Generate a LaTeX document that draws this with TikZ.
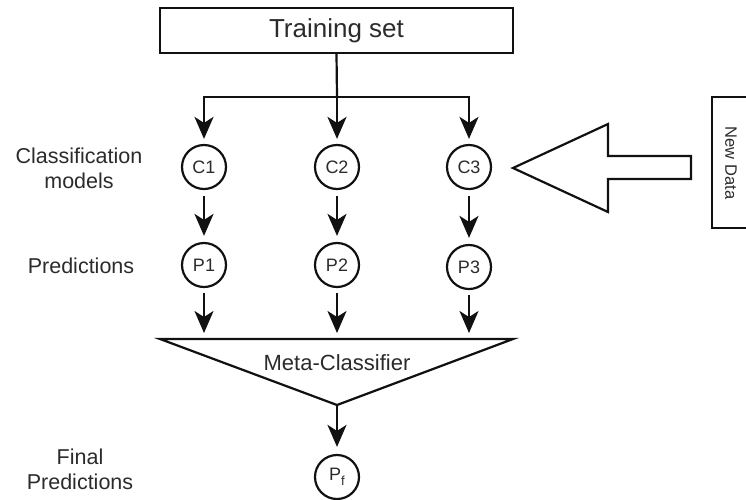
\documentclass[tikz,border=0pt]{standalone}
\usepackage{fontspec}
\setmainfont{Liberation Sans}
\usetikzlibrary{arrows.meta}
\definecolor{ink}{HTML}{111111}
\definecolor{txt}{HTML}{2B2B2B}
\begin{document}
\begin{tikzpicture}[x=1pt,y=-1pt,
  line width=2.2pt, draw=ink, text=txt,
  arr/.style={-{Stealth[length=22pt,width=19pt,inset=6pt]}},
  circ/.style={circle,draw,minimum size=44pt,inner sep=0pt,font=\fontsize{18}{20}\selectfont},
  lbl/.style={align=center,font=\fontsize{21.5}{25}\selectfont}]
\useasboundingbox (0,0) rectangle (746,499);
\clip (0,0) rectangle (746,499);

% training set and fan-out
\node[draw,minimum width=353pt,minimum height=45pt,inner sep=0pt,
      font=\fontsize{26}{28}\selectfont] (ts) at (336.5,30.5) {Training set};
\coordinate (bus) at (337,97);

% classifiers and their predictions
\node[circ] (c1) at (204,167) {C1};
\node[circ] (c2) at (337,167) {C2};
\node[circ] (c3) at (469,167) {C3};
\node[circ] (p1) at (204,265) {P1};
\node[circ] (p2) at (337,265) {P2};
\node[circ] (p3) at (469,267) {P3};

\draw (ts.south) -- (bus);
\draw[arr,shorten >=5pt] (bus) -| (c1);
\draw[arr,shorten >=5pt] (bus) -- (c2);
\draw[arr,shorten >=5pt] (bus) -| (c3);

\foreach \i in {1,2,3}
  \draw[arr,shorten <=6pt,shorten >=6pt] (c\i) -- (p\i);

% meta-classifier funnel
\coordinate (mtl) at (160,339);
\coordinate (mtr) at (513,339);
\coordinate (mapex) at (337,405);
\draw[line join=miter] (mtl) -- (mtr) -- (mapex) -- cycle;
\node[font=\fontsize{22}{24}\selectfont] (meta) at (337,363) {Meta-Classifier};

\foreach \i in {1,2,3}
  \draw[arr,shorten <=5pt,shorten >=6pt] (p\i) -- (p\i |- mtl);

% final prediction
\node[circ] (pf) at (337,477) {P\raisebox{-0.3em}{\fontsize{13}{14}\selectfont f}};
\draw[arr,shorten >=7pt] (mapex) -- (pf);

% row labels
\node[lbl] (lc) at (79,168) {Classification\\models};
\node[lbl] (lp) at (81,266) {Predictions};
\node[lbl] (lf) at (80,469) {Final\\Predictions};

% new data feeding the classifiers
\draw (712,97) rectangle (760,228);
\node[rotate=-90,font=\fontsize{16.5}{18}\selectfont] (nd) at (731,163) {New Data};
\draw[line join=miter] (513,168) -- (608,124) -- (608,156) -- (691,156)
  -- (691,179) -- (608,179) -- (608,212) -- cycle;
\end{tikzpicture}
\end{document}
